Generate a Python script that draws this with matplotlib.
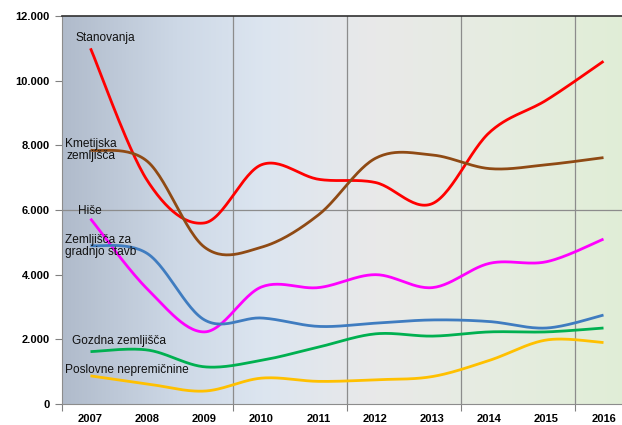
import numpy as np
import matplotlib
matplotlib.use("Agg")
import matplotlib.pyplot as plt
from matplotlib.colors import LinearSegmentedColormap

years = [2007, 2008, 2009, 2010, 2011, 2012, 2013, 2014, 2015, 2016]

stanovanja = [11000, 6900, 5600, 7400, 6950, 6850, 6200, 8400, 9400, 10600]
kmetijska = [7850, 7500, 4850, 4850, 5850, 7600, 7700, 7280, 7400, 7620]
hise = [5730, 3550, 2230, 3620, 3600, 4000, 3600, 4350, 4400, 5100]
gradnja = [4900, 4650, 2600, 2660, 2400, 2500, 2600, 2550, 2350, 2750]
gozdna = [1620, 1670, 1150, 1350, 1760, 2170, 2100, 2230, 2230, 2350]
poslovne = [870, 620, 400, 800, 700, 750, 850, 1350, 1980, 1900]

series = [
    ("Stanovanja", stanovanja, "#ff0000"),
    ("Kmetijska zemljišča", kmetijska, "#8f4a14"),
    ("Hiše", hise, "#ff00ff"),
    ("Zemljišča za gradnjo stavb", gradnja, "#3f7cc0"),
    ("Gozdna zemljišča", gozdna, "#00b050"),
    ("Poslovne nepremičnine", poslovne, "#ffc000"),
]

# label text, x (category units), y (value units), alignment
labels = [
    ("Stanovanja", -0.27, 11320, "left"),
    ("Kmetijska\nzemljišča", -0.45, 7856, "center"),
    ("Hiše", -0.22, 5969, "left"),
    ("Zemljišča za\ngradnjo stavb", -0.45, 4887, "left"),
    ("Gozdna zemljišča", -0.32, 1948, "left"),
    ("Poslovne nepremičnine", -0.45, 1052, "left"),
]


def smooth(y, n=30):
    # excel-like smoothed line (catmull-rom)
    y = np.asarray(y, dtype=float)
    x = np.arange(len(y), dtype=float)
    px = np.concatenate([[x[0]], x, [x[-1]]])
    py = np.concatenate([[y[0]], y, [y[-1]]])
    xs, ys = [], []
    for i in range(len(y) - 1):
        p0, p1, p2, p3 = py[i], py[i + 1], py[i + 2], py[i + 3]
        q0, q1, q2, q3 = px[i], px[i + 1], px[i + 2], px[i + 3]
        t = np.linspace(0, 1, n)
        b1y = p1 + (p2 - p0) / 6
        b2y = p2 - (p3 - p1) / 6
        b1x = q1 + (q2 - q0) / 6
        b2x = q2 - (q3 - q1) / 6
        ys.append((1 - t) ** 3 * p1 + 3 * (1 - t) ** 2 * t * b1y + 3 * (1 - t) * t ** 2 * b2y + t ** 3 * p2)
        xs.append((1 - t) ** 3 * q1 + 3 * (1 - t) ** 2 * t * b1x + 3 * (1 - t) * t ** 2 * b2x + t ** 3 * q2)
    return np.concatenate(xs), np.concatenate(ys)


fig = plt.figure(figsize=(6.22, 4.25), dpi=100)
ax = fig.add_axes([62 / 622, 21 / 425, 570 / 622, 388 / 425])

# background gradient
cmap = LinearSegmentedColormap.from_list(
    "bg", [(0, "#b0bbcb"), (0.2, "#cdd8e6"), (0.35, "#dce5f0"),
           (0.55, "#e9e9e9"), (0.75, "#e6ece1"), (1, "#e0eed6")])
grad = np.linspace(0, 1, 256).reshape(1, -1)
ax.imshow(grad, cmap=cmap, aspect="auto", extent=[-0.5, 9.5, 0, 12000], zorder=0)

for name, vals, col in series:
    sx, sy = smooth(vals)
    ax.plot(sx, sy, color=col, lw=2.0, zorder=3, solid_capstyle="butt")

for txt, xv, yv, al in labels:
    if al == "center":
        ax.text(xv, yv, txt, fontsize=8.6, color="#111111", family="Liberation Sans",
                ha="left", va="center", multialignment="center",
                linespacing=1.05, zorder=4)
    else:
        ax.text(xv, yv, txt, fontsize=8.6, color="#111111", family="Liberation Sans",
                ha="left", va="center", linespacing=1.05, zorder=4)

ax.set_xlim(-0.5, 9.5)
ax.set_ylim(0, 12000)

for xv in [2.5, 4.5, 6.5, 8.5]:
    ax.axvline(xv, color="#8c8c8c", lw=0.9, zorder=1)
ax.axhline(6000, color="#8c8c8c", lw=0.9, zorder=1)

ax.set_xticks([-0.5, 2.5, 4.5, 6.5, 8.5])
ax.set_xticklabels([])
ax.set_xticks(range(len(years)), minor=True)
ax.set_xticklabels([str(y) for y in years], minor=True, fontsize=8,
                   fontweight="bold", family="Liberation Sans")
ax.tick_params(axis="x", which="minor", length=0, pad=7)
ax.tick_params(axis="x", which="major", length=5, color="#808080")

yt = [0, 2000, 4000, 6000, 8000, 10000, 12000]
ax.set_yticks(yt)
ax.set_yticklabels(["0" if v == 0 else f"{v // 1000}.000" for v in yt],
                   fontsize=8, fontweight="bold", family="Liberation Sans")
ax.tick_params(axis="y", length=5, color="#808080", pad=4)

ax.spines["top"].set_color("#303030")
ax.spines["top"].set_linewidth(1.2)
ax.spines["left"].set_color("#8c8c8c")
ax.spines["bottom"].set_color("#8c8c8c")
ax.spines["right"].set_visible(False)

fig.savefig("out.png", dpi=100)
